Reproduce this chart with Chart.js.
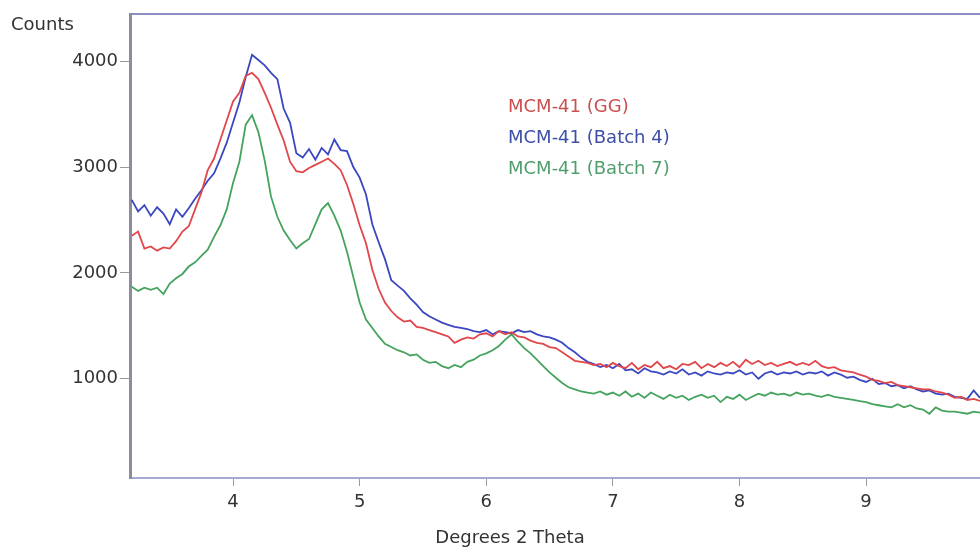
<!DOCTYPE html>
<html>
<head>
<meta charset="utf-8">
<script src="https://cdn.jsdelivr.net/npm/chart.js@4.4.1/dist/chart.umd.min.js"></script>
<style>
  html, body { margin: 0; padding: 0; background: #fff; }
  canvas { display: block; }
</style>
</head>
<body>
<canvas id="xrd_chart" width="980" height="549"></canvas>
<script>
// 2-theta scan positions (degrees)
const theta = [
  3.20, 3.25, 3.30, 3.35, 3.40, 3.45, 3.50, 3.55, 3.60, 3.65,
  3.70, 3.75, 3.80, 3.85, 3.90, 3.95, 4.00, 4.05, 4.10, 4.15,
  4.20, 4.25, 4.30, 4.35, 4.40, 4.45, 4.50, 4.55, 4.60, 4.65,
  4.70, 4.75, 4.80, 4.85, 4.90, 4.95, 5.00, 5.05, 5.10, 5.15,
  5.20, 5.25, 5.30, 5.35, 5.40, 5.45, 5.50, 5.55, 5.60, 5.65,
  5.70, 5.75, 5.80, 5.85, 5.90, 5.95, 6.00, 6.05, 6.10, 6.15,
  6.20, 6.25, 6.30, 6.35, 6.40, 6.45, 6.50, 6.55, 6.60, 6.65,
  6.70, 6.75, 6.80, 6.85, 6.90, 6.95, 7.00, 7.05, 7.10, 7.15,
  7.20, 7.25, 7.30, 7.35, 7.40, 7.45, 7.50, 7.55, 7.60, 7.65,
  7.70, 7.75, 7.80, 7.85, 7.90, 7.95, 8.00, 8.05, 8.10, 8.15,
  8.20, 8.25, 8.30, 8.35, 8.40, 8.45, 8.50, 8.55, 8.60, 8.65,
  8.70, 8.75, 8.80, 8.85, 8.90, 8.95, 9.00, 9.05, 9.10, 9.15,
  9.20, 9.25, 9.30, 9.35, 9.40, 9.45, 9.50, 9.55, 9.60, 9.65,
  9.70, 9.75, 9.80, 9.85, 9.90
];

// counts
const gg = [
  2350, 2390, 2230, 2250, 2210, 2240, 2230, 2300, 2390, 2440,
  2600, 2760, 2970, 3080, 3260, 3440, 3620, 3700, 3860, 3890,
  3830, 3700, 3560, 3400, 3250, 3050, 2960, 2950, 2990, 3020,
  3050, 3080, 3030, 2970, 2830, 2650, 2450, 2280, 2030, 1850,
  1720, 1640, 1580, 1540, 1550, 1490, 1480, 1460, 1440, 1420,
  1400, 1340, 1370, 1390, 1380, 1420, 1430, 1400, 1450, 1420,
  1440, 1400, 1390, 1360, 1340, 1330, 1300, 1290, 1250, 1210,
  1170, 1160, 1150, 1130, 1140, 1110, 1150, 1120, 1100, 1150,
  1090, 1130, 1110, 1160, 1100, 1120, 1090, 1140, 1130, 1160,
  1100, 1140, 1110, 1150, 1120, 1160, 1110, 1180, 1140, 1170,
  1130, 1150, 1120, 1140, 1160, 1130, 1150, 1130, 1170, 1120,
  1100, 1110, 1080, 1070, 1060, 1040, 1020, 990, 980, 960,
  970, 940, 930, 920, 910, 900, 900, 880, 870, 850,
  820, 830, 800, 810, 790
];

const batch4 = [
  2690, 2580, 2640, 2540, 2620, 2560, 2460, 2600, 2530, 2610,
  2700, 2780, 2870, 2940, 3080, 3230, 3420, 3610, 3850, 4060,
  4010, 3960, 3890, 3830, 3550, 3420, 3130, 3090, 3170, 3070,
  3180, 3120, 3260, 3160, 3150, 3000, 2900, 2740, 2460, 2290,
  2130, 1930, 1880, 1830, 1760, 1700, 1630, 1590, 1560, 1530,
  1510, 1490, 1480, 1470, 1450, 1440, 1460, 1420, 1450, 1440,
  1430, 1460, 1440, 1450, 1420, 1400, 1390, 1370, 1340, 1290,
  1250, 1200, 1160, 1140, 1110, 1130, 1100, 1140, 1080, 1090,
  1050, 1100, 1070, 1060, 1040, 1070, 1050, 1090, 1040, 1060,
  1030, 1070, 1050, 1040, 1060, 1050, 1080, 1040, 1060, 1000,
  1050, 1070, 1040, 1060, 1050, 1070, 1040, 1060, 1050, 1070,
  1030, 1060, 1040, 1010, 1020, 990, 970, 1000, 950, 960,
  930, 940, 910, 930, 900, 880, 890, 860, 850, 860,
  830, 820, 810, 890, 820
];

const batch7 = [
  1870, 1830, 1860, 1840, 1860, 1800, 1900, 1950, 1990, 2060,
  2100, 2160, 2220, 2340, 2450, 2600, 2850, 3050, 3400, 3490,
  3330, 3060, 2720, 2530, 2400, 2310, 2230, 2280, 2320, 2460,
  2600, 2660, 2540, 2400, 2200, 1960, 1720, 1560, 1480, 1400,
  1330, 1300, 1270, 1250, 1220, 1230, 1180, 1150, 1160, 1120,
  1100, 1130, 1110, 1160, 1180, 1220, 1240, 1270, 1310, 1370,
  1420, 1350, 1290, 1240, 1180, 1120, 1060, 1010, 960, 920,
  900, 880, 870, 860, 880, 850, 870, 840, 880, 830,
  860, 820, 870, 840, 810, 850, 820, 840, 800, 830,
  850, 820, 840, 780, 830, 810, 850, 800, 830, 860,
  840, 870, 850, 860, 840, 870, 850, 860, 840, 830,
  850, 830, 820, 810, 800, 790, 780, 760, 750, 740,
  730, 760, 730, 750, 720, 710, 670, 730, 700, 690,
  690, 680, 670, 690, 680
];

const seriesNames = ['MCM-41 (GG)', 'MCM-41 (Batch 4)', 'MCM-41 (Batch 7)'];
const xTicks = [4, 5, 6, 7, 8, 9];
const yTicks = [1000, 2000, 3000, 4000];
const xTitle = 'Degrees 2 Theta';
const yTitle = 'Counts';

const font = { family: '"DejaVu Sans", sans-serif', size: 18 };

const toPoints = arr => theta.map((t, i) => ({ x: t, y: arr[i] }));

// axis titles and the coloured legend text sit where the original put them
const textPlugin = {
  id: 'textPlugin',
  afterDraw(chart) {
    const ctx = chart.ctx;
    ctx.save();
    ctx.font = '18px "DejaVu Sans", sans-serif';
    ctx.textBaseline = 'middle';
    ctx.fillStyle = '#333';
    ctx.textAlign = 'left';
    ctx.fillText(yTitle, 11, 25);
    ctx.textAlign = 'center';
    ctx.fillText(xTitle, 510, 538);
    ctx.textAlign = 'left';
    chart.data.datasets.forEach((ds, i) => {
      ctx.fillStyle = ds.textColor;
      ctx.fillText(ds.label, 508, 107 + i * 31);
    });
    ctx.restore();
  }
};

const ctx = document.getElementById('xrd_chart').getContext('2d');

new Chart(ctx, {
  type: 'line',
  data: {
    datasets: [{
      label: seriesNames[0],
      data: toPoints(gg),
      borderColor: '#e0464a',
      textColor: '#c9504f',
      borderWidth: 1.8,
      pointRadius: 0,
      tension: 0
    }, {
      label: seriesNames[1],
      data: toPoints(batch4),
      borderColor: '#3a47c0',
      textColor: '#3d4ea8',
      borderWidth: 1.8,
      pointRadius: 0,
      tension: 0
    }, {
      label: seriesNames[2],
      data: toPoints(batch7),
      borderColor: '#45a35e',
      textColor: '#4f9e6c',
      borderWidth: 1.8,
      pointRadius: 0,
      tension: 0
    }]
  },
  options: {
    responsive: false,
    animation: false,
    layout: { padding: { top: 14, left: 0, right: 0, bottom: 0 } },
    plugins: {
      legend: { display: false },
      tooltip: { enabled: false }
    },
    scales: {
      x: {
        type: 'linear',
        position: 'bottom',
        min: 3.186,
        max: 9.9,
        afterBuildTicks: s => { s.ticks = xTicks.map(v => ({ value: v })); },
        afterFit: s => { s.height = 71; },
        grid: { drawOnChartArea: false, tickLength: 8, color: '#9a9a9a' },
        border: { color: '#a9a9d6', width: 2 },
        ticks: { font: font, color: '#333', padding: 6, maxRotation: 0, autoSkip: false }
      },
      x2: {
        type: 'linear',
        position: 'top',
        min: 3.186,
        max: 9.9,
        afterFit: s => { s.height = 0; },
        grid: { drawOnChartArea: false, drawTicks: false },
        border: { color: '#8e8ec4', width: 2 },
        ticks: { display: false }
      },
      y: {
        min: 63,
        max: 4445,
        afterBuildTicks: s => { s.ticks = yTicks.map(v => ({ value: v })); },
        afterFit: s => { s.width = 130; },
        grid: { drawOnChartArea: false, tickLength: 10, color: '#9a9a9a' },
        border: { color: '#8c8c9c', width: 3 },
        ticks: { font: font, color: '#333', padding: 2, callback: v => String(v) }
      }
    }
  },
  plugins: [textPlugin]
});
</script>
</body>
</html>
